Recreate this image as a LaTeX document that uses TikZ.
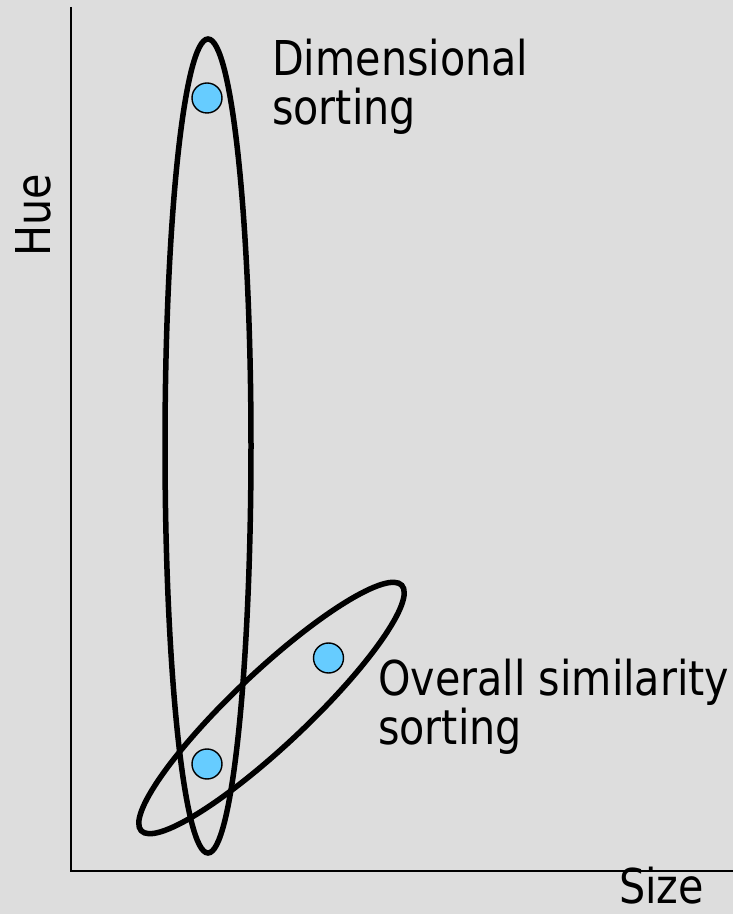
\documentclass[tikz,border=0pt]{standalone}
\usepackage{fontspec}
\setmainfont{DejaVu Sans}[FakeStretch=0.86]
\definecolor{bg}{HTML}{DDDDDD}
\definecolor{dotblue}{HTML}{66CCFF}
\begin{document}
\begin{tikzpicture}[x=1pt,y=1pt,
  axis/.style={line width=2pt,black},
  loop/.style={line width=5.5pt,black},
  dot/.style={circle,draw=black,line width=1.4pt,fill=dotblue,minimum size=30pt,inner sep=0pt},
  lbl/.style={font=\fontsize{48}{49}\selectfont,inner sep=0pt,align=left,anchor=base west}]
\fill[bg] (0,0) rectangle (733,914);
\useasboundingbox (0,0) rectangle (733,914);
% axes
\coordinate (origin) at (71,43);
\coordinate (ytop) at (71,907);
\coordinate (xend) at (733,43);
\draw[axis] (ytop) -- (origin) -- (xend);
% ellipses
\draw[loop] (208,468) ellipse [x radius=43, y radius=407];
\draw[loop,rotate around={43.3:(271.5,206)}] (271.5,206) ellipse [x radius=179, y radius=37];
% dots
\node[dot] (d1) at (207,816) {};
\node[dot] (d2) at (328.5,256) {};
\node[dot] (d3) at (207,150) {};
% labels
\node[lbl] (dim) at (272,789) {Dimensional\\sorting};
\node[lbl] (ovr) at (378,169) {Overall similarity\\sorting};
\node[lbl,rotate=90] (hue) at (50,657) {Hue};
\node[lbl] (size) at (619,10) {Size};
\end{tikzpicture}
\end{document}
